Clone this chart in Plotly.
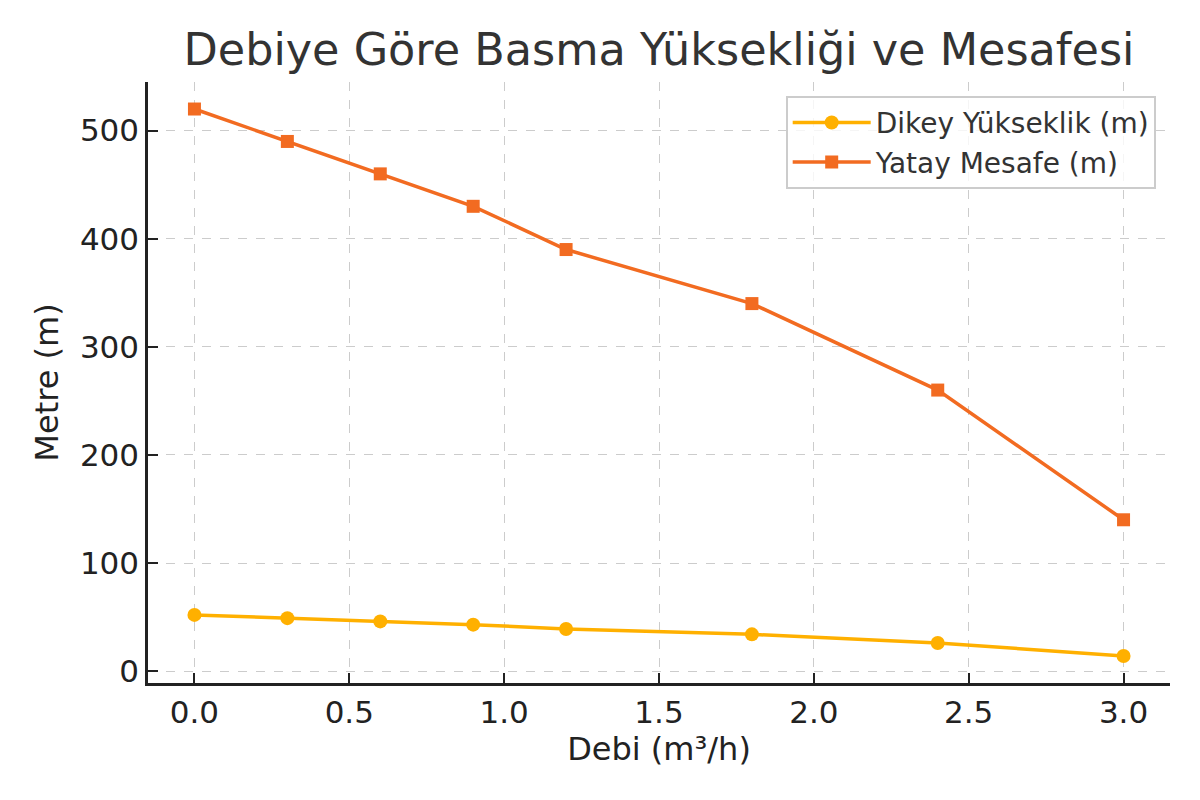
import plotly.graph_objects as go

debi = [0.0, 0.3, 0.6, 0.9, 1.2, 1.8, 2.4, 3.0]
dikey = [52, 49, 46, 43, 39, 34, 26, 14]
yatay = [520, 490, 460, 430, 390, 340, 260, 140]
x_ticks = [0.0, 0.5, 1.0, 1.5, 2.0, 2.5, 3.0]
x_ticktext = ["0.0", "0.5", "1.0", "1.5", "2.0", "2.5", "3.0"]
y_ticks = [0, 100, 200, 300, 400, 500]

fig = go.Figure()
fig.add_trace(go.Scatter(x=debi, y=dikey, mode="lines+markers", name="Dikey Yükseklik (m)",
                         line=dict(color="#FFB000", width=3.5),
                         marker=dict(symbol="circle", size=14, color="#FFB000")))
fig.add_trace(go.Scatter(x=debi, y=yatay, mode="lines+markers", name="Yatay Mesafe (m)",
                         line=dict(color="#F26B21", width=3.5),
                         marker=dict(symbol="square", size=13, color="#F26B21")))

font = "DejaVu Sans"
fig.update_layout(
    width=1200, height=800,
    paper_bgcolor="white", plot_bgcolor="white",
    margin=dict(l=140, r=38, t=74, b=125),
    title=dict(text="Debiye Göre Basma Yüksekliği ve Mesafesi", x=0.5, xref="paper",
               xanchor="center", y=0.948, yanchor="middle",
               font=dict(family=font, size=44.5, color="#333333")),
    font=dict(family=font, color="#222222"),
    legend=dict(x=0.986, y=0.977, xanchor="right", yanchor="top",
                bgcolor="rgba(255,255,255,0.8)", bordercolor="#CCCCCC", borderwidth=2,
                itemwidth=78,
                font=dict(family=font, size=28, color="#333333")),
    showlegend=True,
)
fig.update_xaxes(range=[-0.15, 3.15], tickvals=x_ticks, ticktext=x_ticktext,
                 showline=True, linecolor="#222222", linewidth=2.5, mirror=False,
                 ticks="inside", ticklen=10, tickwidth=2, tickcolor="#222222",
                 showgrid=True, gridcolor="#CCCCCC", griddash="dash", gridwidth=1.3,
                 zeroline=False, tickfont=dict(size=31),
                 title=dict(text="Debi (m³/h)", font=dict(size=32), standoff=6))
fig.update_yaxes(range=[-11, 545], tickvals=y_ticks,
                 showline=True, linecolor="#222222", linewidth=2.5, mirror=False,
                 ticks="inside", ticklen=10, tickwidth=2, tickcolor="#222222",
                 showgrid=True, gridcolor="#CCCCCC", griddash="dash", gridwidth=1.3,
                 zeroline=False, tickfont=dict(size=31),
                 title=dict(text="Metre (m)", font=dict(size=32), standoff=12))

fig.write_html("out.html")
